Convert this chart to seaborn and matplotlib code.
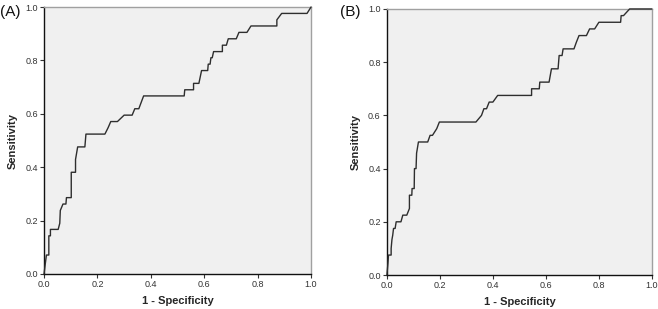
import numpy as np
import pandas as pd
import matplotlib
matplotlib.use("Agg")
import matplotlib.pyplot as plt
import seaborn as sns

# %% Datos de las curvas ROC

fpr_a = [0.0, 0.006, 0.009, 0.018, 0.018, 0.024, 0.024, 0.053, 0.059, 0.061, 0.071, 0.082,
         0.084, 0.102, 0.102, 0.118, 0.118, 0.126, 0.153, 0.157, 0.228, 0.240, 0.250, 0.275,
         0.300, 0.330, 0.340, 0.355, 0.373, 0.525, 0.527, 0.560, 0.560, 0.580, 0.590, 0.613,
         0.615, 0.622, 0.625, 0.630, 0.635, 0.668, 0.668, 0.683, 0.690, 0.720, 0.730, 0.760,
         0.775, 0.872, 0.872, 0.890, 0.985, 1.0]
tpr_a = [0.0, 0.048, 0.071, 0.071, 0.143, 0.143, 0.167, 0.167, 0.190, 0.238, 0.262, 0.262,
         0.286, 0.286, 0.381, 0.381, 0.429, 0.476, 0.476, 0.524, 0.524, 0.548, 0.571, 0.571,
         0.595, 0.595, 0.619, 0.619, 0.667, 0.667, 0.690, 0.690, 0.714, 0.714, 0.762, 0.762,
         0.786, 0.786, 0.810, 0.810, 0.833, 0.833, 0.857, 0.857, 0.881, 0.881, 0.905, 0.905,
         0.929, 0.929, 0.952, 0.976, 0.976, 1.0]

fpr_b = [0.0, 0.004, 0.006, 0.016, 0.016, 0.019, 0.022, 0.025, 0.031, 0.035, 0.053, 0.060,
         0.075, 0.085, 0.085, 0.094, 0.095, 0.103, 0.104, 0.110, 0.112, 0.119, 0.154, 0.163,
         0.172, 0.188, 0.198, 0.336, 0.357, 0.366, 0.376, 0.386, 0.400, 0.418, 0.546, 0.546,
         0.575, 0.577, 0.612, 0.621, 0.646, 0.650, 0.661, 0.665, 0.706, 0.715, 0.725, 0.753,
         0.765, 0.784, 0.800, 0.882, 0.884, 0.893, 0.916, 1.0]
tpr_b = [0.0, 0.045, 0.075, 0.075, 0.100, 0.133, 0.150, 0.175, 0.175, 0.200, 0.200, 0.225,
         0.225, 0.250, 0.300, 0.300, 0.325, 0.325, 0.400, 0.400, 0.458, 0.500, 0.500, 0.525,
         0.525, 0.550, 0.575, 0.575, 0.600, 0.625, 0.625, 0.650, 0.650, 0.675, 0.675, 0.700,
         0.700, 0.725, 0.725, 0.775, 0.775, 0.825, 0.825, 0.850, 0.850, 0.875, 0.900, 0.900,
         0.925, 0.925, 0.950, 0.950, 0.975, 0.975, 1.0, 1.0]

paneles = ["(A)", "(B)"]
ticks = [0.0, 0.2, 0.4, 0.6, 0.8, 1.0]
tick_labels = ["0.0", "0.2", "0.4", "0.6", "0.8", "1.0"]

# %% Grafico

sns.set_style("white")
plt.rcParams['font.family'] = ['Liberation Sans', 'DejaVu Sans']

fig = plt.figure(figsize=(6.58, 3.09), dpi=100)
posiciones = [[0.0669, 0.1133, 0.4058, 0.864], [0.588, 0.110, 0.4027, 0.861]]
curvas = [(fpr_a, tpr_a), (fpr_b, tpr_b)]
pos_label = [(0.0, 0.985), (0.517, 0.985)]

for i in range(2):
    ax = fig.add_axes(posiciones[i])
    df = pd.DataFrame({'fpr': curvas[i][0], 'tpr': curvas[i][1]})
    sns.lineplot(data=df, x='fpr', y='tpr', sort=False, estimator=None,
                 color='#2e2e2e', linewidth=1.0, ax=ax, clip_on=False, zorder=5)
    ax.set_facecolor('#f0f0f0')
    ax.set_xlim(0, 1)
    ax.set_ylim(0, 1)
    ax.set_xticks(ticks)
    ax.set_xticklabels(tick_labels)
    ax.set_yticks(ticks)
    ax.set_yticklabels(tick_labels)
    ax.tick_params(axis='both', direction='out', length=3, width=0.8, labelsize=6.5,
                   colors='#333333', pad=1.5, bottom=True, left=True)
    for lado in ['left', 'bottom']:
        ax.spines[lado].set_color('#111111')
        ax.spines[lado].set_linewidth(1.0)
    for lado in ['top', 'right']:
        ax.spines[lado].set_color('#a0a0a0')
        ax.spines[lado].set_linewidth(1.0)
    ax.set_xlabel('1 - Specificity', fontsize=8, fontweight='bold', labelpad=5)
    ax.set_ylabel('Sensitivity', fontsize=8, fontweight='bold', labelpad=5)
    fig.text(pos_label[i][0], pos_label[i][1], paneles[i], fontsize=11,
             ha='left', va='top', color='#111111')

fig.savefig('out.png', dpi=100, facecolor='white')
